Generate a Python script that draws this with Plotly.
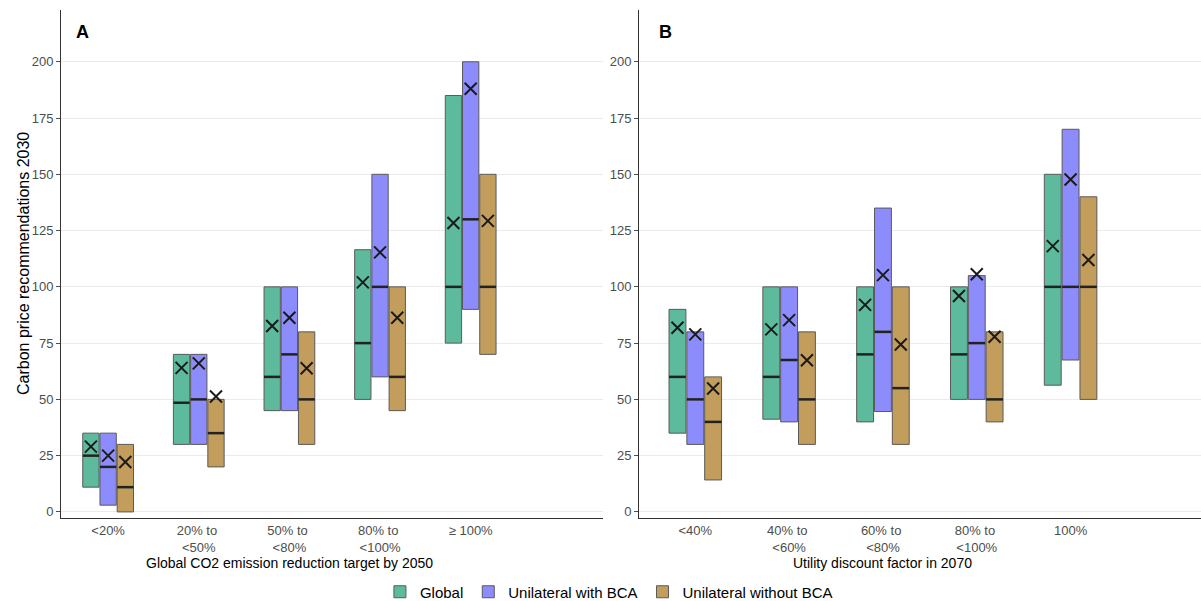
import plotly.graph_objects as go

# ---------------- data ----------------
series = ["Global", "Unilateral with BCA", "Unilateral without BCA"]
colors = ["#5DBA9C", "#8C8CFC", "#C29D5C"]

cats_a = ["<20%", "20% to <50%", "50% to <80%", "80% to <100%", "≥ 100%"]
ticks_a = ["&lt;20%", "20% to&nbsp;<br>&lt;50%", "50% to&nbsp;<br>&lt;80%", "80% to&nbsp;<br>&lt;100%", "≥ 100%"]
cats_b = ["<40%", "40% to <60%", "60% to <80%", "80% to <100%", "100%"]
ticks_b = ["&lt;40%", "40% to&nbsp;<br>&lt;60%", "60% to&nbsp;<br>&lt;80%", "80% to&nbsp;<br>&lt;100%", "100%"]

# Panel A (per series: lists over categories)
a_low = {
    "Global": [11, 30, 45, 50, 75],
    "Unilateral with BCA": [3, 30, 45, 60, 90],
    "Unilateral without BCA": [0, 20, 30, 45, 70],
}
a_high = {
    "Global": [35, 70, 100, 116.5, 185],
    "Unilateral with BCA": [35, 70, 100, 150, 200],
    "Unilateral without BCA": [30, 50, 80, 100, 150],
}
a_median = {
    "Global": [25, 48.5, 60, 75, 100],
    "Unilateral with BCA": [20, 50, 70, 100, 130],
    "Unilateral without BCA": [11, 35, 50, 60, 100],
}
a_mean = {
    "Global": [29, 64, 82.6, 102, 128.4],
    "Unilateral with BCA": [25, 66, 86.3, 115.3, 188],
    "Unilateral without BCA": [22.2, 51.3, 63.8, 86.3, 129.3],
}

# Panel B
b_low = {
    "Global": [35, 41.2, 40, 50, 56.3],
    "Unilateral with BCA": [30, 40, 44.6, 50, 67.5],
    "Unilateral without BCA": [14.2, 30, 30, 40, 50],
}
b_high = {
    "Global": [90, 100, 100, 100, 150],
    "Unilateral with BCA": [80, 100, 135, 105, 170],
    "Unilateral without BCA": [60, 80, 100, 80, 140],
}
b_median = {
    "Global": [60, 60, 70, 70, 100],
    "Unilateral with BCA": [50, 67.5, 80, 75, 100],
    "Unilateral without BCA": [40, 50, 55, 50, 100],
}
b_mean = {
    "Global": [81.8, 81.1, 92, 95.9, 118.1],
    "Unilateral with BCA": [78.9, 85.2, 105.2, 105.6, 147.7],
    "Unilateral without BCA": [54.8, 67.4, 74.4, 77.8, 111.9],
}

# ---------------- figure ----------------
W, H = 1201, 601
slot = 0.19
bw = 0.18

fig = go.Figure()

panels = [
    ("x", "y", cats_a, a_low, a_high, a_median, a_mean),
    ("x2", "y2", cats_b, b_low, b_high, b_median, b_mean),
]

for pi, (xa, ya, cats, low, high, med, mean) in enumerate(panels):
    for k, s in enumerate(series):
        xs = [i + (k - 1) * slot for i in range(len(cats))]
        fig.add_trace(go.Bar(
            x=xs, y=[h - l for h, l in zip(high[s], low[s])], base=low[s],
            width=bw, marker=dict(color=colors[k], line=dict(color="#5a5a5a", width=1)),
            name=s, legendgroup=s, showlegend=(pi == 0),
            xaxis=xa, yaxis=ya, hoverinfo="skip",
        ))
        sx, sy = [], []
        for x0, m in zip(xs, med[s]):
            sx += [x0 - bw / 2, x0 + bw / 2, None]
            sy += [m, m, None]
        fig.add_trace(go.Scatter(
            x=sx, y=sy, mode="lines", line=dict(color="#222222", width=2.5),
            showlegend=False, xaxis=xa, yaxis=ya, hoverinfo="skip",
        ))
        fig.add_trace(go.Scatter(
            x=xs, y=mean[s], mode="markers",
            marker=dict(symbol="x-thin-open", size=12, color="#1a1a1a",
                        line=dict(color="#1a1a1a", width=2)),
            showlegend=False, xaxis=xa, yaxis=ya, hoverinfo="skip",
        ))

font = "Liberation Sans, Arial, sans-serif"
plot_top, plot_bot = 10, 518
ph = plot_bot - plot_top

def px_x(p):
    return p / W

def px_y(p):
    return (plot_bot - p) / ph

yaxis_common = dict(
    range=[-2.7, 223], tickvals=[0, 25, 50, 75, 100, 125, 150, 175, 200],
    showgrid=True, gridcolor="#EBEBEB", gridwidth=1, zeroline=False,
    showline=True, linecolor="#333333", linewidth=1,
    ticks="outside", ticklen=4, tickcolor="#4d4d4d",
    tickfont=dict(size=13, color="#4d4d4d", family=font),
)
xaxis_common = dict(
    showgrid=False, zeroline=False, showline=True, linecolor="#333333", linewidth=1,
    ticks="", tickfont=dict(size=13, color="#4d4d4d", family=font),
)

fig.update_layout(
    width=W, height=H, barmode="overlay",
    paper_bgcolor="white", plot_bgcolor="white",
    margin=dict(l=0, r=0, t=plot_top, b=H - plot_bot, autoexpand=False),
    font=dict(family=font, color="black"),
    xaxis=dict(domain=[px_x(61), px_x(603)], range=[-0.52, 5.46],
               tickvals=list(range(5)), ticktext=ticks_a, anchor="y", **xaxis_common),
    yaxis=dict(domain=[0, 1], anchor="x", **yaxis_common),
    xaxis2=dict(domain=[px_x(639), 1.0], range=[-0.6, 5.39],
                tickvals=list(range(5)), ticktext=ticks_b, anchor="y2", **xaxis_common),
    yaxis2=dict(domain=[0, 1], anchor="x2", **yaxis_common),
    legend=dict(orientation="h", x=0.507, xanchor="center", y=px_y(592), yanchor="middle",
                font=dict(size=15, color="black", family=font), itemwidth=30,
                traceorder="normal"),
    showlegend=True,
)

ann_common = dict(xanchor="center", yanchor="middle", showarrow=False)
annotations = [
    dict(text="Carbon price recommendations 2030", textangle=-90, x=px_x(23), y=px_y(264),
         xref="paper", yref="paper", font=dict(size=16, color="black"), **ann_common),
    dict(text="Global CO2 emission reduction target by 2050", x=2, xref="x", y=px_y(563),
         yref="paper", font=dict(size=14, color="black"), **ann_common),
    dict(text="Utility discount factor in 2070", x=2, xref="x2", y=px_y(563),
         yref="paper", font=dict(size=14, color="black"), **ann_common),
    dict(text="<b>A</b>", x=px_x(82), y=px_y(32), xref="paper", yref="paper",
         font=dict(size=18, color="black"), **ann_common),
    dict(text="<b>B</b>", x=px_x(665), y=px_y(32), xref="paper", yref="paper",
         font=dict(size=18, color="black"), **ann_common),
]
fig.update_layout(annotations=annotations)

fig.write_html("out.html", config={"displayModeBar": False},
               post_script="document.body.style.margin='0px';document.body.style.overflow='hidden';")
